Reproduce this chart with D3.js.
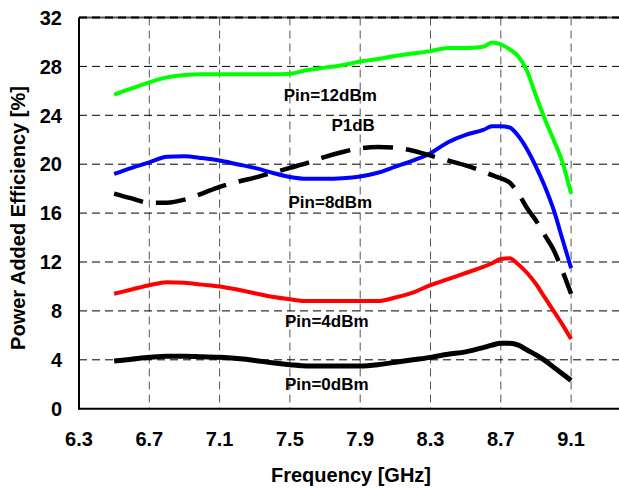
<!DOCTYPE html>
<html><head><meta charset="utf-8">
<script src="https://cdn.jsdelivr.net/npm/d3@7"></script>
<style>body{margin:0;background:#fff}svg{display:block}text{font-family:"Liberation Sans",Arial,sans-serif;font-weight:bold}</style>
</head><body>
<svg id="c" width="619" height="488"></svg>
<script>
const freq = [6.5,6.6,6.7,6.8,6.9,7.0,7.1,7.2,7.3,7.4,7.5,7.6,7.7,7.8,7.9,8.0,8.1,8.2,8.3,8.4,8.5,8.6,8.65,8.7,8.75,8.8,8.85,8.9,8.95,9.0,9.05,9.1];
const pin12 = [25.7,26.2,26.7,27.1,27.3,27.35,27.35,27.35,27.35,27.35,27.4,27.7,27.9,28.1,28.4,28.6,28.85,29.05,29.25,29.5,29.5,29.6,29.95,29.8,29.4,28.8,27.6,25.6,23.7,22.0,20.2,17.6];
const pin8  = [19.2,19.7,20.15,20.6,20.65,20.5,20.3,20.0,19.7,19.3,18.95,18.8,18.8,18.85,19.0,19.3,19.8,20.3,20.9,21.8,22.4,22.8,23.1,23.1,23.0,22.3,21.2,19.8,18.2,16.3,13.9,11.5];
const p1dB  = [17.6,17.2,16.85,16.85,17.1,17.6,18.15,18.55,18.9,19.3,19.7,20.1,20.6,21.0,21.3,21.4,21.35,21.1,20.7,20.3,19.9,19.4,19.1,18.85,18.5,17.6,16.4,15.4,14.2,13.0,11.3,9.4];
const pin4  = [9.4,9.75,10.1,10.35,10.3,10.15,10.0,9.75,9.45,9.15,8.95,8.8,8.8,8.8,8.8,8.8,9.1,9.5,10.1,10.6,11.1,11.6,11.9,12.25,12.3,11.8,11.1,10.2,9.1,8.0,6.9,5.7];
const pin0  = [3.9,4.05,4.2,4.3,4.3,4.25,4.2,4.1,3.95,3.75,3.6,3.5,3.5,3.5,3.5,3.6,3.8,4.0,4.2,4.45,4.65,5.0,5.2,5.35,5.35,5.2,4.8,4.4,3.95,3.4,2.85,2.3];
const xTicks = [6.3,6.7,7.1,7.5,7.9,8.3,8.7,9.1];
const yTicks = [0,4,8,12,16,20,24,28,32];
const labels = [
  {t:"Pin=12dBm", f:7.73, v:25.17},
  {t:"P1dB", f:7.86, v:22.7},
  {t:"Pin=8dBm", f:7.73, v:16.4},
  {t:"Pin=4dBm", f:7.71, v:6.68},
  {t:"Pin=0dBm", f:7.71, v:1.53}
];
const series = [
  {vals:pin12, color:"#00ff00", w:4, dash:null},
  {vals:pin8, color:"#0000ff", w:4, dash:null},
  {vals:p1dB, color:"#000", w:4.5, dash:"30,13"},
  {vals:pin4, color:"#ff0000", w:4, dash:null},
  {vals:pin0, color:"#000", w:5, dash:null}
];

const svg = d3.select("#c");
const L=79, T=17.5, B=408.7;
const x = d3.scaleLinear().domain([6.3,9.5]).range([L, L+8*70.3]);
const y = d3.scaleLinear().domain([0,32]).range([B,T]);

// grid
const g = svg.append("g");
g.selectAll(".vg").data(xTicks.slice(1)).join("line")
  .attr("x1",d=>x(d)).attr("x2",d=>x(d)).attr("y1",T).attr("y2",B)
  .attr("stroke","#555").attr("stroke-width",1).attr("stroke-dasharray","8,5");
g.selectAll(".hg").data(yTicks.slice(1,-1)).join("line")
  .attr("x1",L).attr("x2",619).attr("y1",d=>y(d)).attr("y2",d=>y(d))
  .attr("stroke","#000").attr("stroke-width",1).attr("stroke-dasharray","8,5");
// top border
g.append("line").attr("x1",L).attr("x2",619).attr("y1",T).attr("y2",T)
  .attr("stroke","#555").attr("stroke-width",2);
g.append("line").attr("x1",L).attr("x2",619).attr("y1",T).attr("y2",T)
  .attr("stroke","#000").attr("stroke-width",2).attr("stroke-dasharray","8,5");

// axes lines
svg.append("line").attr("x1",L).attr("x2",L).attr("y1",T).attr("y2",B+1).attr("stroke","#000").attr("stroke-width",2);
svg.append("line").attr("x1",L).attr("x2",619).attr("y1",B).attr("y2",B).attr("stroke","#000").attr("stroke-width",2);

// tick labels
svg.selectAll(".yl").data(yTicks).join("text")
  .attr("x",62).attr("y",d=>y(d)+7.2).attr("text-anchor","end")
  .attr("font-size",20).text(d=>d);
svg.selectAll(".xl").data(xTicks).join("text")
  .attr("x",d=>x(d)).attr("y",446).attr("text-anchor","middle")
  .attr("font-size",20).text(d=>d.toFixed(1));

svg.append("text").attr("x",351).attr("y",482).attr("text-anchor","middle")
  .attr("font-size",20).text("Frequency [GHz]");
svg.append("text").attr("transform","translate(24.5,218) rotate(-90)")
  .attr("text-anchor","middle").attr("font-size",20).text("Power Added Efficiency [%]");

// lines
const line = d3.line().x((d,i)=>x(freq[i])).y(d=>y(d)).curve(d3.curveMonotoneX);
series.forEach(s=>{
  svg.append("path").attr("d",line(s.vals)).attr("fill","none")
    .attr("stroke",s.color).attr("stroke-width",s.w)
    .attr("stroke-dasharray",s.dash)
    .attr("stroke-linejoin","round");
});

// labels
svg.selectAll(".lab").data(labels).join("text")
  .attr("x",d=>x(d.f)).attr("y",d=>y(d.v)).attr("text-anchor","middle")
  .attr("font-size",17).text(d=>d.t);
</script>
</body></html>
